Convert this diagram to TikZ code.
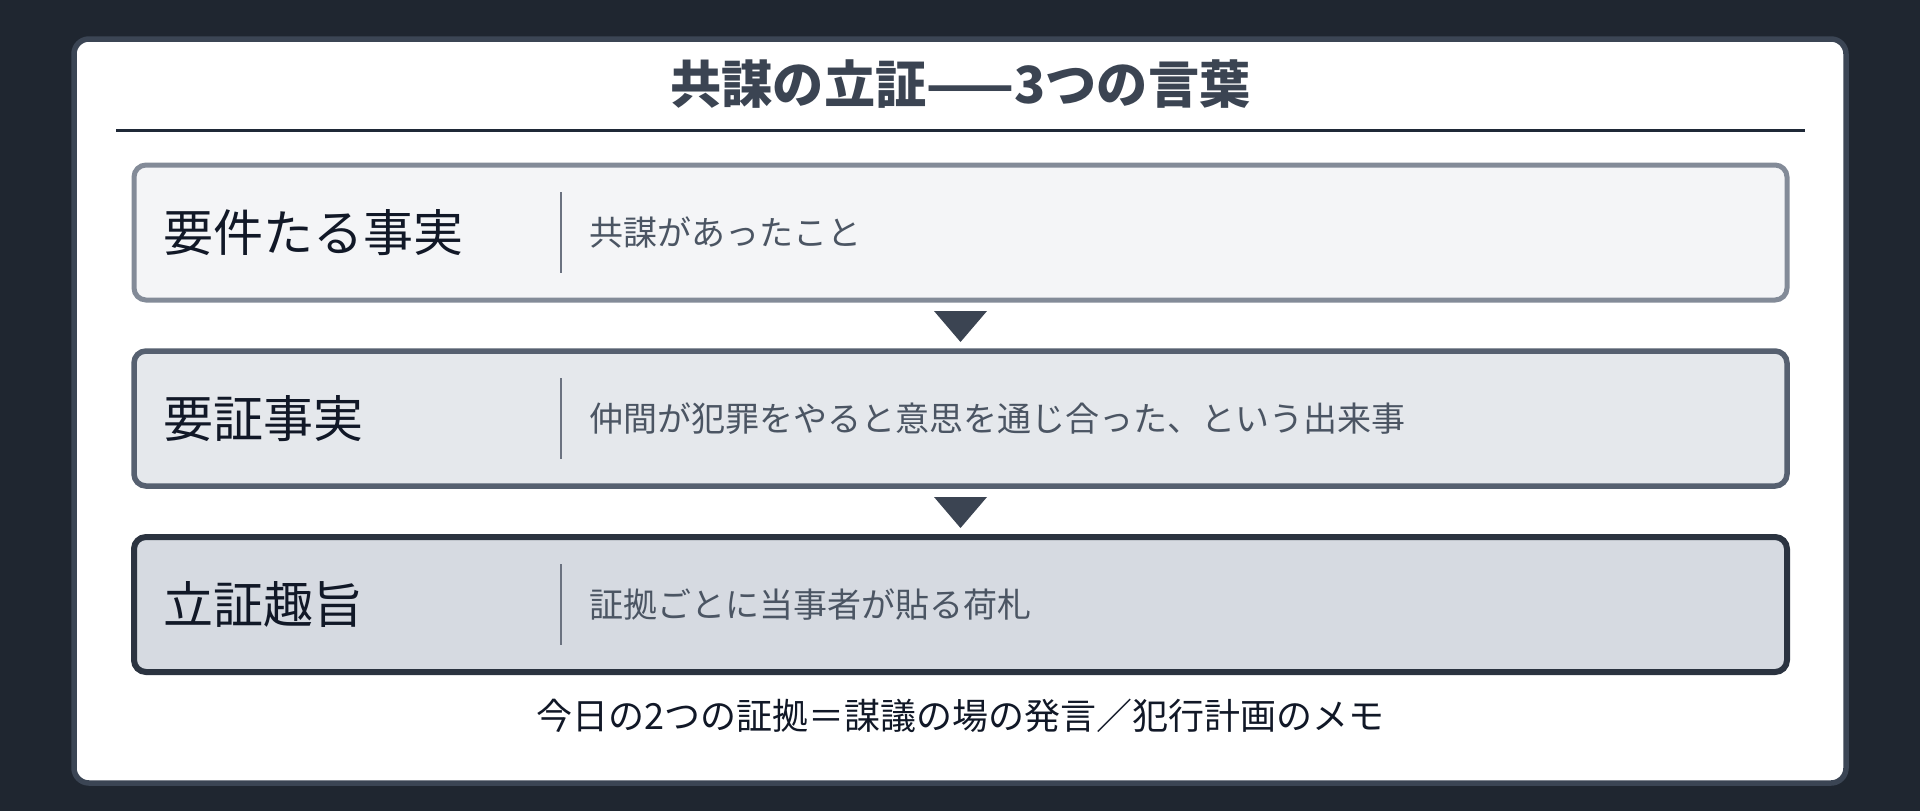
\documentclass[tikz,border=0pt]{standalone}
\usepackage{fontspec}
\usepackage{xcolor}
\usepackage{tikz}
\usetikzlibrary{positioning}
\setmainfont{Noto Sans CJK JP}

\definecolor{bg}{HTML}{1F2630}
\definecolor{cardline}{HTML}{3B4554}
\definecolor{ink}{HTML}{111827}
\definecolor{head}{HTML}{3B4452}
\definecolor{ruleline}{HTML}{1F2937}
\definecolor{muted}{HTML}{4B5563}
\definecolor{divline}{HTML}{6B7280}
\definecolor{lineA}{HTML}{838B98}
\definecolor{fillA}{HTML}{F4F5F7}
\definecolor{lineB}{HTML}{566070}
\definecolor{fillB}{HTML}{E5E8EC}
\definecolor{lineC}{HTML}{2B3340}
\definecolor{fillC}{HTML}{D6DAE1}

\begin{document}
\begin{tikzpicture}[
  node distance=25.5pt,
  row/.style={rectangle, rounded corners=6pt, minimum width=826.5pt,
    minimum height=67.5pt, inner sep=0pt, outer sep=0pt},
  term/.style={inner sep=0pt, font=\fontsize{25pt}{30pt}\selectfont, text=ink},
  gloss/.style={inner sep=0pt, font=\fontsize{17pt}{20pt}\selectfont, text=muted},
  divider/.style={divline, line width=1pt},
  tri/.style={fill=head}
]
  \fill[bg] (0,0) rectangle (960pt,405.5pt);
  \useasboundingbox (0,0) rectangle (960pt,405.5pt);
  \draw[cardline, line width=2.75pt, fill=white, rounded corners=7.5pt]
    (37pt,14pt) rectangle (923pt,386pt);

  \node[font=\fontsize{25.6pt}{30pt}\selectfont\bfseries, text=head] (title)
    at (480.25pt,363.25pt) {共謀の立証——3つの言葉};
  \draw[ruleline, line width=1.5pt] (58pt,340.5pt) -- (902.5pt,340.5pt);

  \node[row, draw=lineA, line width=2.5pt, fill=fillA] (fact) at (480.25pt,289.25pt) {};
  \node[row, draw=lineB, line width=2.75pt, fill=fillB, below=of fact] (proof) {};
  \node[row, draw=lineC, line width=3pt, fill=fillC, below=of proof] (purpose) {};

  \node[term, right=14.5pt of fact.west] (factterm) {要件たる事実};
  \coordinate[right=213.5pt of fact.west] (factdiv);
  \node[gloss, right=227.5pt of fact.west] (factgloss) {共謀があったこと};
  \draw[divider] ([yshift=20.25pt]factdiv) -- ([yshift=-20.25pt]factdiv);

  \node[term, right=14.5pt of proof.west] (proofterm) {要証事実};
  \coordinate[right=213.5pt of proof.west] (proofdiv);
  \node[gloss, right=227.5pt of proof.west] (proofgloss) {仲間が犯罪をやると意思を通じ合った、という出来事};
  \draw[divider] ([yshift=20.25pt]proofdiv) -- ([yshift=-20.25pt]proofdiv);

  \node[term, right=14.5pt of purpose.west] (purposeterm) {立証趣旨};
  \coordinate[right=213.5pt of purpose.west] (purposediv);
  \node[gloss, right=227.5pt of purpose.west] (purposegloss) {証拠ごとに当事者が貼る荷札};
  \draw[divider] ([yshift=20.25pt]purposediv) -- ([yshift=-20.25pt]purposediv);

  \fill[tri] ([xshift=-13.25pt,yshift=-5.5pt]fact.south) -- ([xshift=13.25pt,yshift=-5.5pt]fact.south)
    -- ([yshift=-21pt]fact.south) -- cycle;
  \fill[tri] ([xshift=-13.25pt,yshift=-5.5pt]proof.south) -- ([xshift=13.25pt,yshift=-5.5pt]proof.south)
    -- ([yshift=-21pt]proof.south) -- cycle;

  \node[font=\fontsize{18pt}{22pt}\selectfont, text=ink] (memo)
    at ([yshift=-22pt]purpose.south) {今日の2つの証拠＝謀議の場の発言／犯行計画のメモ};
\end{tikzpicture}
\end{document}
